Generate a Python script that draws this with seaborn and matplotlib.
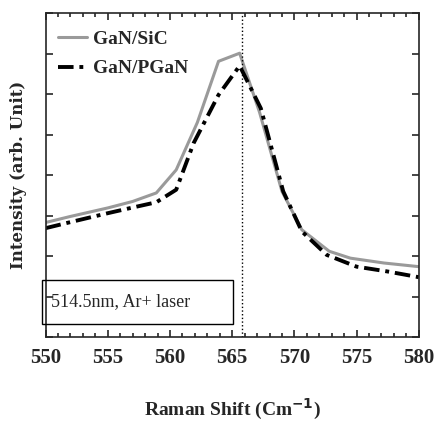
import numpy as np
import pandas as pd
import matplotlib
matplotlib.use('Agg')
import matplotlib.pyplot as plt
from matplotlib.patches import Rectangle
from matplotlib.ticker import MultipleLocator
import seaborn as sns

sns.set_style('ticks')
plt.rcParams['font.family'] = ['Liberation Serif', 'DejaVu Serif']

# Raman spectra
sic_shift = [550, 552, 555, 557, 558.9, 560.5, 562.2, 563.9, 565.6, 567.2, 569.0, 570.6, 572.8, 574.5, 577.2, 580]
sic_int = [2.83, 2.98, 3.19, 3.35, 3.56, 4.13, 5.30, 6.81, 7.01, 5.55, 3.60, 2.65, 2.12, 1.95, 1.83, 1.74]

pgan_shift = [550, 552, 555, 557, 558.9, 560.5, 561.9, 563.9, 565.6, 567.3, 569.1, 570.6, 572.6, 575.0, 577.5, 580]
pgan_int = [2.69, 2.84, 3.06, 3.20, 3.33, 3.64, 4.79, 5.98, 6.70, 5.65, 3.60, 2.61, 2.03, 1.74, 1.62, 1.48]

peak_pos = 565.8

df_sic = pd.DataFrame({'shift': sic_shift, 'intensity': sic_int})
df_pgan = pd.DataFrame({'shift': pgan_shift, 'intensity': pgan_int})

fig = plt.figure(figsize=(4.34, 4.23), dpi=100)
ax = fig.add_axes([0.105, 0.203, 0.86, 0.766])

sns.lineplot(data=df_sic, x='shift', y='intensity', ax=ax, color='#9a9a9a',
             linewidth=2.2, label='GaN/SiC')
sns.lineplot(data=df_pgan, x='shift', y='intensity', ax=ax, color='black',
             linewidth=2.8, linestyle=(0, (4, 1.5, 1, 1.5)), label='GaN/PGaN')
ax.axvline(peak_pos, color='black', linestyle=':', linewidth=1.0)

ax.set_xlim(550, 580)
ax.set_ylim(0, 8)
ax.xaxis.set_major_locator(MultipleLocator(5))
ax.xaxis.set_minor_locator(MultipleLocator(1))
ax.yaxis.set_major_locator(MultipleLocator(1))
ax.set_yticklabels([])
ax.tick_params(which='both', direction='in', top=True, right=True, width=1.2)
ax.tick_params(which='major', length=5)
ax.tick_params(which='minor', length=3)
ax.tick_params(axis='x', labelsize=15, pad=8)
for lab in ax.get_xticklabels():
    lab.set_fontweight('bold')
for sp in ax.spines.values():
    sp.set_linewidth(1.2)

ax.set_xlabel('Raman Shift (Cm$^{\\mathbf{-1}}$)', fontsize=14, fontweight='bold', labelpad=21)
ax.set_ylabel('Intensity (arb. Unit)', fontsize=12, fontweight='bold', labelpad=10,
              family='DejaVu Serif')

leg = ax.legend(loc='upper left', bbox_to_anchor=(0.033, 0.946), frameon=False,
                handlelength=1.5, handletextpad=0.3, borderpad=0, borderaxespad=0,
                prop={'size': 14, 'weight': 'bold'}, labelspacing=0.6)

# annotation box partially outside the left spine
box = Rectangle((42 / 434, (423 - 324) / 423), (233 - 42) / 434, 44 / 423,
                transform=fig.transFigure, fill=False, edgecolor='black', linewidth=1.0)
fig.patches.append(box)
fig.text(51 / 434, (423 - 302) / 423, '514.5nm, Ar+ laser', fontsize=13,
         va='center', ha='left')

fig.savefig('out.png', dpi=100)
